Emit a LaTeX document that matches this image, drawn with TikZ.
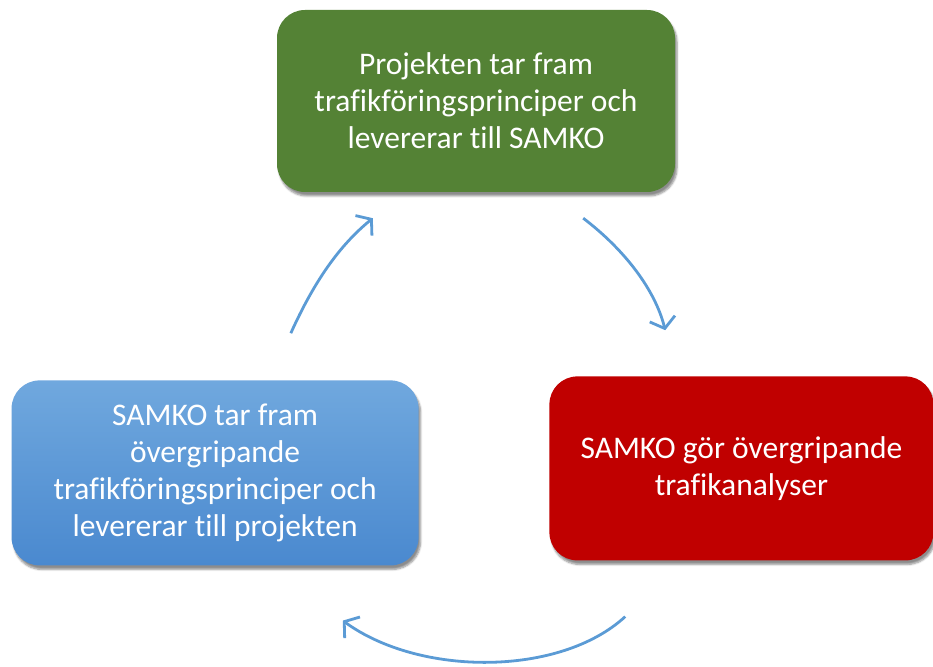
\documentclass[tikz,border=0pt]{standalone}
\usepackage{fontspec}
\setmainfont{Carlito}[Ligatures=NoCommon]
\usepackage{xcolor}
\usepackage{tikz}
\usetikzlibrary{positioning,arrows.meta,calc,shadows.blur}
\definecolor{leafgreen}{HTML}{548235}
\definecolor{signalred}{HTML}{C00000}
\definecolor{skytop}{HTML}{70A8DE}
\definecolor{skybot}{HTML}{4A89CF}
\definecolor{flowblue}{HTML}{5B9BD5}
\tikzset{
    fas/.style={rectangle,rounded corners=28pt,text=white,align=center,inner sep=4pt,
        font=\fontsize{31.5}{37}\selectfont,
        blur shadow={shadow xshift=2pt,shadow yshift=-4pt,shadow blur steps=6,shadow opacity=45}},
    prjbox/.style={fas,fill=leafgreen,minimum width=398pt,minimum height=182pt},
    anlbox/.style={fas,fill=signalred,minimum width=384pt,minimum height=184pt},
    ovrbox/.style={fas,top color=skytop,bottom color=skybot,minimum width=407pt,minimum height=185pt},
    arr/.style={-{Straight Barb[length=10pt,width=26pt,line width=2.8pt]},line width=2.8pt,draw=flowblue},
}

\begin{document}
\begin{tikzpicture}[x=1pt,y=1pt]
\useasboundingbox (0,0) rectangle (933,666);
\node[prjbox] (prj) at (476,565) {Projekten tar fram\\trafikföringsprinciper och\\levererar till SAMKO};
\node[anlbox,below right=184pt and -126pt of prj] (anl) {SAMKO gör övergripande\\trafikanalyser};
\node[ovrbox,below left=188pt and -142pt of prj] (ovr) {SAMKO tar fram\\övergripande\\trafikföringsprinciper och\\levererar till projekten};
% free ends of the cycle arrows
\coordinate (g1) at ($(prj.south east)+(-92,-26)$);
\coordinate (r1) at ($(anl.north west)+(116,46)$);
\coordinate (r2) at ($(anl.south west)+(76,-56)$);
\coordinate (b1) at ($(ovr.south east)+(-76,-55)$);
\coordinate (b2) at ($(ovr.north east)+(-128,47)$);
\coordinate (g2) at ($(prj.south west)+(96,-26)$);
\draw[arr] (g1) .. controls +(42,-32) and +(-10,40) .. (r1);
\draw[arr] (r2) .. controls +(-65,-60) and +(77,-56) .. (b1);
\draw[arr] (b2) .. controls +(24,53) and +(-33,-27) .. (g2);
\end{tikzpicture}
\end{document}
